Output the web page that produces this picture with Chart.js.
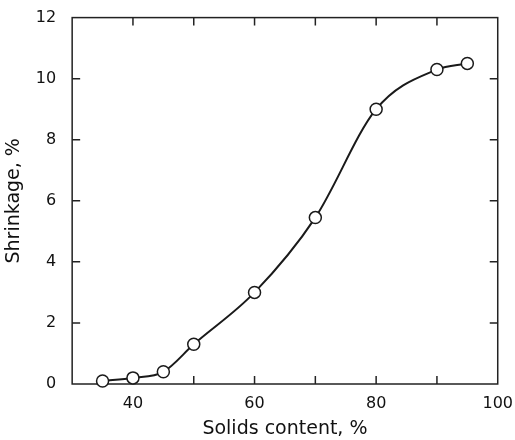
<!DOCTYPE html>
<html>
<head>
<meta charset="utf-8">
<script src="https://cdn.jsdelivr.net/npm/chart.js@4/dist/chart.umd.min.js"></script>
<style>
  html, body { margin: 0; padding: 0; background: #fff; }
  #wrap { width: 515px; height: 440px; }
</style>
</head>
<body>
<div id="wrap"><canvas id="shrinkChart"></canvas></div>
<script>
/* Solids content (%) vs shrinkage (%) */
const solids = [35, 40, 45, 50, 60, 70, 80, 90, 95];
const shrinkage = [0.1, 0.2, 0.4, 1.3, 3.0, 5.45, 9.0, 10.3, 10.5];
const xLabels = [40, 60, 80, 100];

const points = solids.map((s, i) => ({ x: s, y: shrinkage[i] }));

/* cadre + petits traits vers l'intérieur */
const frameTicks = {
    id: "frameTicks",
    beforeDatasetsDraw(chart) {
        const { ctx, chartArea: a, scales } = chart;
        ctx.save();
        ctx.strokeStyle = "#222";
        ctx.lineWidth = 1.5;
        ctx.strokeRect(a.left, a.top, a.right - a.left, a.bottom - a.top);
        const len = 8;
        scales.x.ticks.forEach(t => {
            if (t.value <= 30 || t.value >= 100) return;
            const px = scales.x.getPixelForValue(t.value);
            ctx.beginPath();
            ctx.moveTo(px, a.bottom); ctx.lineTo(px, a.bottom - len);
            ctx.moveTo(px, a.top); ctx.lineTo(px, a.top + len);
            ctx.stroke();
        });
        scales.y.ticks.forEach(t => {
            if (t.value <= 0 || t.value >= 12) return;
            const py = scales.y.getPixelForValue(t.value);
            ctx.beginPath();
            ctx.moveTo(a.left, py); ctx.lineTo(a.left + len, py);
            ctx.moveTo(a.right, py); ctx.lineTo(a.right - len, py);
            ctx.stroke();
        });
        ctx.restore();
    }
};

const ctx = document.getElementById("shrinkChart").getContext("2d");
const shrinkChart = new Chart(ctx, {
    type: "line",
    data: {
        datasets: [{
            label: "Shrinkage",
            data: points,
            borderColor: "#1a1a1a",
            borderWidth: 2,
            cubicInterpolationMode: "monotone",
            pointRadius: 6,
            pointBorderWidth: 1.5,
            pointBackgroundColor: "#fff",
            pointBorderColor: "#1a1a1a",
            clip: false,
        }],
    },
    options: {
        responsive: true,
        maintainAspectRatio: false,
        animation: false,
        layout: { padding: { left: 3, right: 0, top: 7, bottom: 0 } },
        plugins: { legend: { display: false }, tooltip: { enabled: false } },
        scales: {
            x: {
                type: "linear",
                min: 30,
                max: 100,
                grid: { display: false },
                border: { display: false },
                ticks: {
                    stepSize: 10,
                    autoSkip: false,
                    maxRotation: 0,
                    color: "#111",
                    padding: 2,
                    font: { family: "DejaVu Sans", size: 16 },
                    callback: v => (xLabels.includes(v) ? v : ""),
                },
                title: {
                    display: true,
                    text: "Solids content, %",
                    color: "#111",
                    font: { family: "DejaVu Sans", size: 19 },
                    padding: { top: 2, bottom: 0 },
                },
            },
            y: {
                min: 0,
                max: 12,
                grid: { display: false },
                border: { display: false },
                ticks: {
                    stepSize: 2,
                    color: "#111",
                    padding: 8,
                    font: { family: "DejaVu Sans", size: 16 },
                },
                title: {
                    display: true,
                    text: "Shrinkage, %",
                    color: "#111",
                    font: { family: "DejaVu Sans", size: 19 },
                    padding: { top: 0, bottom: 2 },
                },
            },
        },
    },
    plugins: [frameTicks],
});
</script>
</body>
</html>
